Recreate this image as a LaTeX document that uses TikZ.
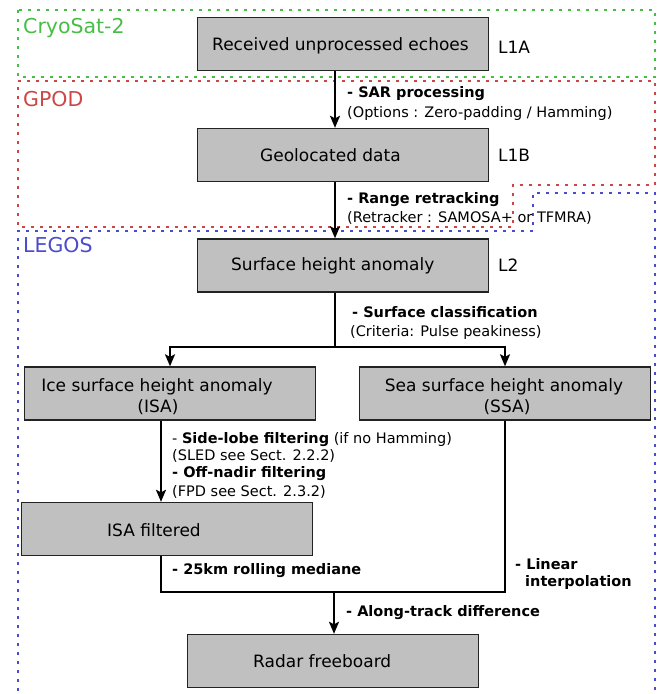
\documentclass[tikz,border=0pt]{standalone}
\usepackage{fontspec}
\setmainfont{DejaVu Sans}
\usetikzlibrary{arrows.meta}
\definecolor{cgreen}{RGB}{70,190,70}
\definecolor{cred}{RGB}{205,70,70}
\definecolor{cblue}{RGB}{75,75,205}
\definecolor{boxfill}{RGB}{192,192,192}
\definecolor{boxline}{RGB}{35,35,35}
\tikzset{
  stepbox/.style={draw=boxline, fill=boxfill, line width=1.4pt, inner sep=0pt, minimum width=291pt, minimum height=53pt},
  boxtxt/.style={inner sep=0pt, anchor=base west, font=\fontsize{17}{20}\selectfont},
  lbl/.style={inner sep=0pt, anchor=base west, font=\fontsize{14.5}{17}\selectfont},
  grp/.style={inner sep=0pt, anchor=base west, font=\fontsize{20.5}{24}\selectfont},
  zone/.style={line width=2.1pt, dash pattern=on 3pt off 6pt},
  conn/.style={line width=1.8pt, black},
  arr/.style={conn, -{Stealth[length=12pt, width=10pt, inset=2.5pt]}},
}
\begin{document}
\begin{tikzpicture}[x=1pt, y=-1pt]
\useasboundingbox (0,0) rectangle (661,694);
% zones
\draw[zone, cgreen] (18,10) rectangle (655,77);
\draw[zone, cred] (18,81) -- (655,81) -- (655,185) -- (513,185) -- (513,227) -- (18,227) -- cycle;
\draw[zone, cblue] (18,700) -- (18,231) -- (533,231) -- (533,193) -- (655,193) -- (655,700);
\node[grp, text=cgreen] (gcs) at (23,33) {CryoSat-2};
\node[grp, text=cred] (ggp) at (23,106) {GPOD};
\node[grp, text=cblue] (gle) at (23,252) {LEGOS};
% boxes
\node[stepbox] (l1a) at (343,44) {};
\node[stepbox] (geo) at (343,155) {};
\node[stepbox] (sha) at (343,265.5) {};
\node[stepbox] (isa) at (170,393.5) {};
\node[stepbox] (ssa) at (505,393.5) {};
\node[stepbox] (isf) at (167,529) {};
\node[stepbox] (rfb) at (333,661) {};
% box texts
\node[boxtxt] (t1) at (212,50) {Received unprocessed echoes};
\node[boxtxt] (t2) at (260,161) {Geolocated data};
\node[boxtxt] (t3) at (231,270) {Surface height anomaly};
\node[boxtxt, anchor=base] (t4) at (157,391) {Ice surface height anomaly};
\node[boxtxt, anchor=base] (t4b) at (158,412) {(ISA)};
\node[boxtxt, anchor=base] (t5) at (504,391) {Sea surface height anomaly};
\node[boxtxt, anchor=base] (t5b) at (507,412) {(SSA)};
\node[boxtxt] (t6) at (107,536) {ISA filtered};
\node[boxtxt] (t7) at (253,667) {Radar freeboard};
% level labels
\node[boxtxt] (v1) at (498,53) {L1A};
\node[boxtxt] (v2) at (498,161) {L1B};
\node[boxtxt] (v3) at (498,271) {L2};
% coordinates
\coordinate (col) at (335,0);
\coordinate (split) at (335,347);
\coordinate (isad) at (161,0);
\coordinate (join) at (334,592);
% connectors
\draw[arr] (l1a.south -| col) -- (geo.north -| col);
\draw[arr] (geo.south -| col) -- (sha.north -| col);
\draw[conn] (sha.south -| split) -- (split);
\draw[arr] (split) -| (isa.north);
\draw[arr] (split) -| (ssa.north);
\draw[arr] (isa.south -| isad) -- (isf.north -| isad);
\draw[conn] (isf.south -| isad) |- (join);
\draw[conn] (ssa.south) |- (join);
\draw[arr] (join) -- (rfb.north -| join);
% connector labels
\node[lbl] (s1) at (347,97) {\textbf{- SAR processing}};
\node[lbl] (s1b) at (347,117) {(Options : Zero-padding / Hamming)};
\node[lbl] (s2) at (347,203) {\textbf{- Range retracking}};
\node[lbl] (s2b) at (347,222) {(Retracker : SAMOSA+ or TFMRA)};
\node[lbl] (s3) at (352,317) {\textbf{- Surface classification}};
\node[lbl] (s3b) at (350,336) {(Criteria: Pulse peakiness)};
\node[lbl] (s4) at (172,443) {- \textbf{Side-lobe filtering} (if no Hamming)};
\node[lbl] (s4b) at (172,460) {(SLED see Sect. 2.2.2)};
\node[lbl] (s5) at (172,477) {\textbf{- Off-nadir filtering}};
\node[lbl] (s5b) at (172,496) {(FPD see Sect. 2.3.2)};
\node[lbl] (s6) at (172,574) {\textbf{- 25km rolling mediane}};
\node[lbl] (s7) at (515,569) {\textbf{- Linear}};
\node[lbl] (s7b) at (525,586) {\textbf{interpolation}};
\node[lbl] (s8) at (346,616) {\textbf{- Along-track difference}};
\end{tikzpicture}
\end{document}
